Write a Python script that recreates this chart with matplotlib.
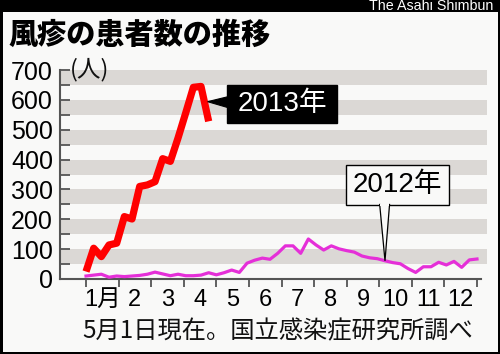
import matplotlib
matplotlib.use("Agg")
import matplotlib.pyplot as plt
from matplotlib.patches import Rectangle, Polygon

# ---- data ----
weeks_2013 = list(range(1, 18))
cases_2013 = [25, 103, 75, 114, 120, 209, 201, 310, 315, 326, 403, 394, 472, 556, 642, 645, 528]

weeks_2012 = list(range(1, 53))
cases_2012 = [10, 13, 16, 6, 10, 8, 10, 12, 16, 23, 17, 11, 16, 11, 11, 13, 21, 14, 21, 30,
              22, 53, 63, 70, 66, 86, 111, 111, 86, 134, 114, 97, 111, 101, 95, 90, 77, 71, 68, 61,
              55, 51, 35, 22, 41, 41, 56, 47, 59, 39, 64, 67]

month_labels = ["1月", "2", "3", "4", "5", "6", "7", "8", "9", "10", "11", "12"]
y_ticks = [0, 100, 200, 300, 400, 500, 600, 700]

title = "風疹の患者数の推移"
unit = "(人)"
source = "5月1日現在。国立感染症研究所調べ"
credit = "The Asahi Shimbun"
label_2013 = "2013年"
label_2012 = "2012年"

W, H = 500, 354
BG = "#f9f9f8"
BAND = "#dbd8d5"
AX = "#555555"
LAT = ["Liberation Sans", "Noto Sans CJK JP"]
CJK = ["Noto Sans CJK JP", "Liberation Sans"]

fig = plt.figure(figsize=(W / 100, H / 100), dpi=100, facecolor=BG)

def fx(px):
    return px / W

def fy(py):
    return 1 - py / H

# frame
fig.patches.append(Rectangle((0, fy(12)), 1, 12 / H, transform=fig.transFigure,
                             facecolor="black", edgecolor="none", zorder=0))
fig.patches.append(Rectangle((0, 0), 3 / W, 1, transform=fig.transFigure,
                             facecolor="black", edgecolor="none", zorder=0))
fig.patches.append(Rectangle((1 - 2.5 / W, 0), 2.5 / W, 1, transform=fig.transFigure,
                             facecolor="black", edgecolor="none", zorder=0))
fig.patches.append(Rectangle((0, 0), 1, 2 / H, transform=fig.transFigure,
                             facecolor="black", edgecolor="none", zorder=0))

fig.text(fx(493), fy(10.5), credit, color="white", fontsize=10.3, ha="right", va="baseline",
         family=LAT)

fig.text(fx(9), fy(35), title, fontsize=21, fontweight="heavy", family=CJK,
         ha="left", va="center", color="black")

fig.text(fx(90), fy(70), unit, fontsize=17, family=CJK, ha="center", va="center", color="#111")

fig.text(fx(82), fy(331), source, fontsize=17.5, family=CJK, ha="left", va="center", color="#111")

# axes
ax = fig.add_axes([fx(60), fy(279), fx(487) - fx(60), (279 - 70) / H])
ax.set_facecolor(BG)
px_per_week = 7.66
x0 = 1 - (86 - 60) / px_per_week
x1 = 52 + (487 - 477) / px_per_week
ax.set_xlim(x0, x1)
ax.set_ylim(0, 700)

for lo in range(50, 700, 100):
    ax.axhspan(lo, lo + 50, color=BAND, lw=0, zorder=0)

ax.plot(weeks_2012, cases_2012, color="#e52fd8", lw=2.3, zorder=3, solid_joinstyle="round")
ax.plot(weeks_2013, cases_2013, color="#ff0000", lw=5.2, zorder=4, solid_joinstyle="round",
        solid_capstyle="butt")

for s in ["top", "right"]:
    ax.spines[s].set_visible(False)
for s in ["left", "bottom"]:
    ax.spines[s].set_color(AX)
    ax.spines[s].set_linewidth(1.5)
ax.spines["bottom"].set_bounds(x0, 52 + 4 / px_per_week)

ax.set_yticks(y_ticks)
ax.set_yticklabels([str(v) for v in y_ticks])
ax.set_yticks(list(range(50, 700, 100)), minor=True)
ax.tick_params(axis="y", which="both", direction="in", length=7.5, width=1.3, color=AX,
               labelsize=18, pad=5)
for t in ax.get_yticklabels():
    t.set_family(LAT)

month_edges = [1 + 51 * k / 12 for k in range(13)]
month_mid = [(month_edges[k] + month_edges[k + 1]) / 2 for k in range(12)]
ax.set_xticks(month_edges)
ax.set_xticklabels([""] * 13)
ax.set_xticks(month_mid, minor=True)
ax.set_xticklabels(month_labels, minor=True)
ax.tick_params(axis="x", which="major", direction="out", length=6, width=1.3, color=AX)
ax.tick_params(axis="x", which="minor", length=0, labelsize=17, pad=7)
for t in ax.get_xticklabels(minor=True):
    t.set_family(LAT)

# 2013 label
def wk(px):
    return 1 + (px - 86) / px_per_week

def val(py):
    return (279 - py) / 29.8 * 100

ax.add_patch(Rectangle((wk(227), val(123)), wk(337) - wk(227), val(85) - val(123),
                       facecolor="black", edgecolor="black", zorder=6, clip_on=False))
ax.add_patch(Polygon([(wk(207.5), val(102)), (wk(228), val(97)), (wk(228), val(108))],
                     closed=True, facecolor="black", edgecolor="black", lw=0.8, zorder=6,
                     clip_on=False))
ax.text(wk(282), val(104.5), label_2013, color="white", fontsize=20, ha="center", va="center",
        family=LAT, zorder=7)

# 2012 label
tip_w = weeks_2012[39]
tip_v = cases_2012[39]
ax.add_patch(Polygon([(tip_w - 0.7, val(204)), (tip_w, tip_v), (tip_w + 0.6, val(204))],
                     closed=False, facecolor=BG, edgecolor="black", lw=0.9, zorder=6,
                     joinstyle="miter"))
ax.add_patch(Rectangle((wk(346), val(205)), wk(449) - wk(346), val(165) - val(205),
                       facecolor=BG, edgecolor="black", lw=1.0, zorder=5))
ax.add_patch(Rectangle((tip_w - 0.62, val(206)), 1.15, 6, facecolor=BG, edgecolor="none",
                       zorder=6))
ax.text(wk(397.5), val(185.5), label_2012, color="black", fontsize=20, ha="center",
        va="center", family=LAT, zorder=7)

fig.savefig("out.png", dpi=100, facecolor=BG)
